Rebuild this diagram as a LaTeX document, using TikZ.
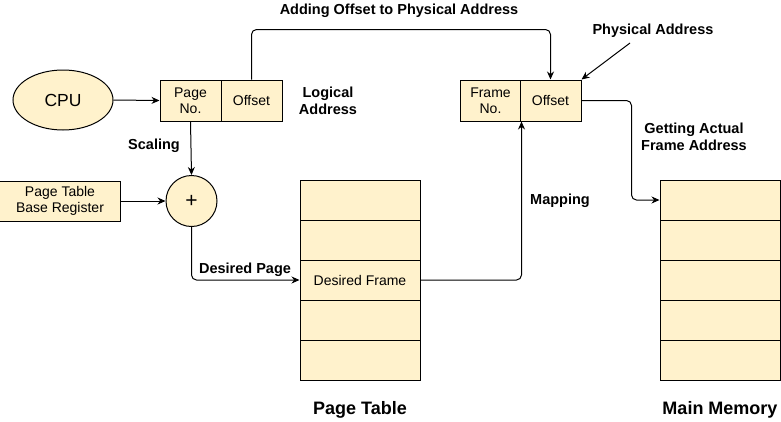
\documentclass[tikz,border=0pt]{standalone}
\usepackage{fontspec}
\setmainfont{Liberation Sans}
\usetikzlibrary{arrows.meta,shapes.geometric}
\definecolor{boxfill}{HTML}{FFF2CC}
\tikzset{
  box/.style={draw=black, fill=boxfill, line width=1pt, inner sep=0pt, font=\fontsize{14}{16}\selectfont},
  lbl/.style={font=\bfseries\fontsize{14.5}{17}\selectfont, align=center, inner sep=0pt},
  big/.style={font=\bfseries\fontsize{18}{20}\selectfont, inner sep=0pt},
  conn/.style={draw, line width=1pt, -{Stealth[length=8pt,width=7pt]}, rounded corners=5pt},
}
\begin{document}
\begin{tikzpicture}[x=1pt,y=-1pt]
\useasboundingbox (0,0) rectangle (781,421);
% CPU
\node[box, ellipse, minimum width=100pt, minimum height=60pt, font=\fontsize{17.5}{19}\selectfont] (cpu) at (63,100) {CPU};
% logical address
\node[box, minimum width=61pt, minimum height=41pt, align=center] (pno) at (190.5,100.5) {Page\\No.};
\node[box, minimum width=61pt, minimum height=41pt] (loff) at (251.5,100.5) {Offset};
\node[lbl] (lad) at (328,101) {Logical\\Address};
% physical address
\node[box, minimum width=61pt, minimum height=41pt, align=center] (fno) at (490.5,100.5) {Frame\\No.};
\node[box, minimum width=61pt, minimum height=41pt] (poff) at (550.5,100.5) {Offset};
\node[lbl] (pad) at (653,31) {Physical Address};
\coordinate (padtail) at (630,43);
\node[lbl] (add) at (399,11) {Adding Offset to Physical Address};
% plus
\node[box, circle, minimum size=51pt, font=\fontsize{21}{22}\selectfont] (plus) at (191.5,201) {+};
\node[box, minimum width=121pt, minimum height=40pt, align=center] (ptbr) at (60,201) {Page Table\\Base Register};
\node[lbl] (scal) at (154,146) {Scaling};
% page table
\foreach \i in {1,...,5} {
  \node[box, minimum width=120pt, minimum height=40pt] (pt\i) at (360,160+40*\i) {};
}
\node[font=\fontsize{14}{16}\selectfont] at (pt3) {Desired Frame};
\node[big] (ptl) at (360,410) {Page Table};
% main memory
\foreach \i in {1,...,5} {
  \node[box, minimum width=120pt, minimum height=40pt] (mm\i) at (720,160+40*\i) {};
}
\node[big] (mml) at (720,410) {Main Memory};
% labels
\node[lbl] (dpg) at (245,270) {Desired Page};
\node[lbl] (map) at (560,201) {Mapping};
\node[lbl] (gaf) at (694,136.5) {Getting Actual\\Frame Address};
% connectors
\draw[conn] (cpu.east) -- (pno.west);
\draw[conn] (pno.south) -- (plus.north);
\draw[conn] (ptbr.east) -- (plus.west);
\draw[conn] (plus.south) |- (pt3.west);
\draw[conn] (pt3.east) -| (fno.south east);
\draw[conn] (loff.north) -- ++(0,-50) -| (poff.north);
\draw[conn] (padtail) -- (poff.north east);
\draw[conn] (poff.east) -- ++(50,0) |- (mm1.west);
\end{tikzpicture}
\end{document}
